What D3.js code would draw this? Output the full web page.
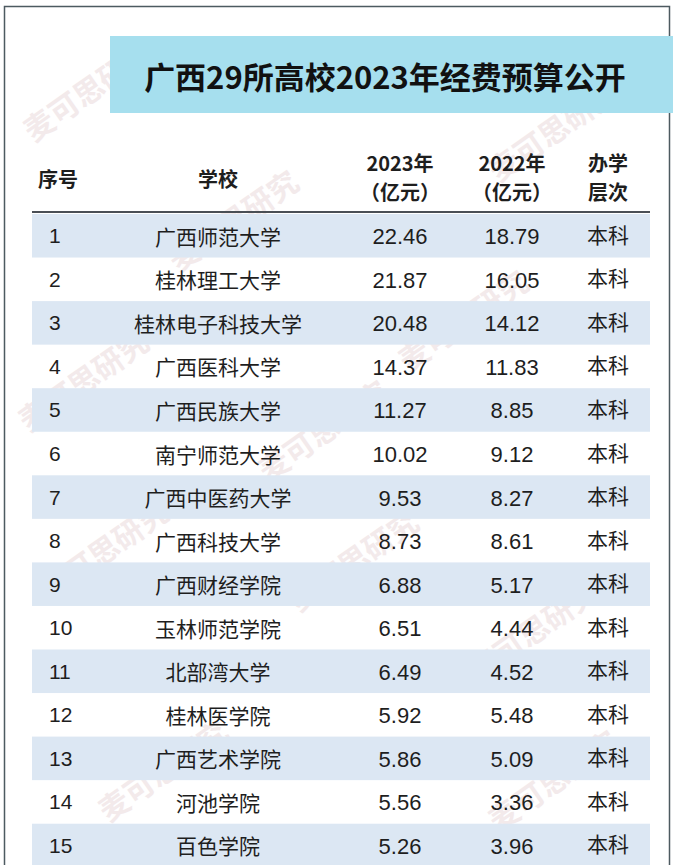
<!DOCTYPE html>
<html>
<head>
<meta charset="utf-8">
<script src="https://cdn.jsdelivr.net/npm/d3@7"></script>
<style>
  html, body { margin: 0; padding: 0; background: #fff; }
  svg { display: block; }
  text { font-family: "Noto Sans CJK SC", "Noto Sans", sans-serif; fill: #1e1e1e; }
  .num { font-family: "Liberation Sans", "Noto Sans CJK SC", sans-serif; }
</style>
</head>
<body>
<svg width="673" height="865">
  <g class="wm"></g>
  <g class="frame"></g>
  <g class="title"></g>
  <g class="header"></g>
  <g class="rows"></g>
</svg>
<script>
const title = '广西29所高校2023年经费预算公开'
const ranks = [1, 2, 3, 4, 5, 6, 7, 8, 9, 10, 11, 12, 13, 14, 15]
const schools = ['广西师范大学', '桂林理工大学', '桂林电子科技大学', '广西医科大学', '广西民族大学',
    '南宁师范大学', '广西中医药大学', '广西科技大学', '广西财经学院', '玉林师范学院',
    '北部湾大学', '桂林医学院', '广西艺术学院', '河池学院', '百色学院']
const budget2023 = [22.46, 21.87, 20.48, 14.37, 11.27, 10.02, 9.53, 8.73, 6.88, 6.51, 6.49, 5.92, 5.86, 5.56, 5.26]
const budget2022 = [18.79, 16.05, 14.12, 11.83, 8.85, 9.12, 8.27, 8.61, 5.17, 4.44, 4.52, 5.48, 5.09, 3.36, 3.96]
const levels = ['本科', '本科', '本科', '本科', '本科', '本科', '本科', '本科', '本科', '本科', '本科', '本科', '本科', '本科', '本科']
const headers = [['序号'], ['学校'], ['2023年', '（亿元）'], ['2022年', '（亿元）'], ['办学', '层次']]
const watermark = '麦可思研究'

const svg = d3.select('svg')
const width = +svg.attr('width')
const height = +svg.attr('height')
const f = d3.format('.2f')

const rows = ranks.map((r, i) => ({
    rank: r, school: schools[i], v23: budget2023[i], v22: budget2022[i], level: levels[i]
}))

// column positions
const colKeys = ['rank', 'school', 'v23', 'v22', 'level']
const colX = d3.scaleOrdinal().domain(colKeys).range([58, 218, 400, 512, 608])

const y = d3.scaleBand()
    .domain(rows.map(d => d.rank))
    .range([213, 213 + 43.55 * rows.length])
    .padding(0)

// faint watermarks, kept inside the page
const wmPos = [[95, 100], [240, 230], [560, 140], [470, 330], [90, 390], [360, 570],
    [110, 560], [540, 640], [170, 780], [560, 790], [330, 440]]
svg.select('g.wm').selectAll('text')
    .data(wmPos)
    .enter().append('text')
    .attr('transform', d => `translate(${d[0]},${d[1]}) rotate(-35)`)
    .attr('text-anchor', 'middle')
    .attr('font-size', 30)
    .attr('font-weight', 700)
    .style('fill', '#e8d6d8')
    .style('opacity', 0.5)
    .text(watermark)

// frame
const frame = svg.select('g.frame')
frame.append('path')
    .attr('d', `M4.5,${height} V6.5 H669.5 V36 M669.5,113 V${height}`)
    .attr('fill', 'none')
    .attr('stroke', '#4d5a60')
    .attr('stroke-width', 1.5)

// title box
const tg = svg.select('g.title')
tg.append('rect')
    .attr('x', 110).attr('y', 36)
    .attr('width', width - 110).attr('height', 77)
    .attr('fill', '#a6dfee')
tg.append('text')
    .attr('x', 385).attr('y', 75)
    .attr('text-anchor', 'middle')
    .attr('dominant-baseline', 'central')
    .attr('font-size', 31)
    .attr('font-weight', 700)
    .style('fill', '#111')
    .text(title)

// header
const hg = svg.select('g.header')
headers.forEach((lines, i) => {
    const t = hg.append('text')
        .attr('x', colX(colKeys[i]))
        .attr('text-anchor', 'middle')
        .attr('font-size', 20)
        .attr('font-weight', 700)
    if (lines.length === 1) {
        t.attr('y', 178).attr('dominant-baseline', 'central').text(lines[0])
    } else {
        lines.forEach((l, j) => {
            t.append('tspan')
                .attr('x', colX(colKeys[i]))
                .attr('y', 162 + j * 29)
                .attr('dominant-baseline', 'central')
                .text(l)
        })
    }
})
hg.append('line')
    .attr('x1', 32).attr('x2', 650)
    .attr('y1', 212).attr('y2', 212)
    .attr('stroke', '#4a4f55')
    .attr('stroke-width', 2)

// rows
const rg = svg.select('g.rows').selectAll('g.row')
    .data(rows)
    .enter().append('g')
    .attr('class', 'row')
    .attr('transform', d => `translate(0,${y(d.rank)})`)

rg.filter((d, i) => i % 2 === 0)
    .append('rect')
    .attr('x', 32).attr('width', 618)
    .attr('y', 1).attr('height', y.bandwidth())
    .attr('fill', '#dce7f3')

const cy = y.bandwidth() / 2 + 1

rg.append('text')
    .attr('class', 'num')
    .attr('x', 49).attr('y', cy)
    .attr('dominant-baseline', 'central')
    .attr('font-size', 21)
    .text(d => d.rank)

rg.append('text')
    .attr('x', colX('school')).attr('y', cy)
    .attr('text-anchor', 'middle')
    .attr('dominant-baseline', 'central')
    .attr('font-size', 21)
    .text(d => d.school)

rg.append('text')
    .attr('class', 'num')
    .attr('x', colX('v23')).attr('y', cy + 1)
    .attr('text-anchor', 'middle')
    .attr('dominant-baseline', 'central')
    .attr('font-size', 22)
    .text(d => f(d.v23))

rg.append('text')
    .attr('class', 'num')
    .attr('x', colX('v22')).attr('y', cy + 1)
    .attr('text-anchor', 'middle')
    .attr('dominant-baseline', 'central')
    .attr('font-size', 22)
    .text(d => f(d.v22))

rg.append('text')
    .attr('x', colX('level')).attr('y', cy - 2)
    .attr('text-anchor', 'middle')
    .attr('dominant-baseline', 'central')
    .attr('font-size', 21)
    .text(d => d.level)
</script>
</body>
</html>
